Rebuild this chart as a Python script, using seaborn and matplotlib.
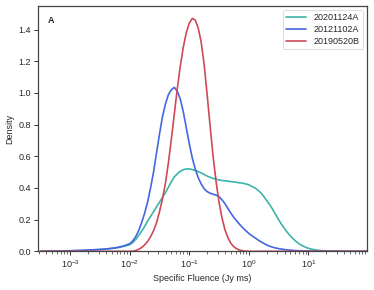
import numpy as np
import pandas as pd
import seaborn as sns
import matplotlib.pyplot as plt

# log10 of specific fluence (Jy ms): coarse in the tails, 0.05 dex where the curves bend
log_fluence = ([round(-3.5 + 0.1 * i, 2) for i in range(15)]
               + [round(-2.0 + 0.05 * i, 2) for i in range(65)]
               + [round(1.3 + 0.1 * i, 2) for i in range(8)])

# density values, one per log_fluence point
dens_20201124A = [
    # -3.5 .. -2.1
    0.0, 0.001, 0.001, 0.002, 0.002, 0.003, 0.004, 0.005, 0.007, 0.009,
    0.011, 0.014, 0.018, 0.023, 0.031,
    # -2.0 .. -1.0
    0.042, 0.055, 0.075, 0.10, 0.127, 0.157, 0.19, 0.22, 0.25, 0.28,
    0.31, 0.34, 0.37, 0.405, 0.44, 0.47, 0.49, 0.505, 0.515, 0.52, 0.52,
    # -0.95 .. 0.0
    0.516, 0.51, 0.503, 0.495, 0.485, 0.475, 0.467, 0.46, 0.455, 0.45,
    0.447, 0.445, 0.443, 0.44, 0.438, 0.435, 0.432, 0.43, 0.425, 0.42,
    # 0.05 .. 1.2
    0.41, 0.40, 0.387, 0.37, 0.347, 0.32, 0.295, 0.265, 0.232, 0.20,
    0.17, 0.143, 0.118, 0.096, 0.077, 0.06, 0.046, 0.035, 0.026, 0.019,
    0.014, 0.01, 0.007, 0.005,
    # 1.3 .. 2.0
    0.002, 0.001, 0.0, 0.0, 0.0, 0.0, 0.0, 0.0,
]
dens_20121102A = [
    0.0, 0.001, 0.001, 0.002, 0.003, 0.004, 0.005, 0.006, 0.008, 0.010,
    0.012, 0.015, 0.019, 0.025, 0.034,
    0.048, 0.065, 0.092, 0.13, 0.18, 0.24, 0.31, 0.40, 0.50, 0.62,
    0.74, 0.85, 0.93, 0.99, 1.02, 1.035, 1.01, 0.96, 0.88, 0.78, 0.68,
    0.59, 0.52, 0.465, 0.425, 0.395, 0.377, 0.367, 0.36, 0.355, 0.345,
    0.325, 0.30, 0.27, 0.24, 0.213, 0.19, 0.168, 0.148, 0.13, 0.113,
    0.099, 0.086, 0.073, 0.061, 0.05, 0.04, 0.032, 0.026, 0.021, 0.017,
    0.014, 0.011, 0.009, 0.007, 0.0055, 0.0045, 0.0035, 0.003, 0.0025, 0.002,
    0.0015, 0.001, 0.001, 0.001,
    0.001, 0.0, 0.0, 0.0, 0.0, 0.0, 0.0, 0.0,
]
dens_20190520B = [
    0.0, 0.0, 0.0, 0.0, 0.0, 0.0, 0.0, 0.0, 0.0, 0.0,
    0.0, 0.0, 0.0, 0.0, 0.0,
    0.0, 0.001, 0.005, 0.012, 0.024, 0.04, 0.062, 0.092, 0.13, 0.18,
    0.25, 0.33, 0.43, 0.56, 0.71, 0.87, 1.03, 1.17, 1.29, 1.38, 1.44,
    1.47, 1.46, 1.41, 1.32, 1.18, 0.99, 0.79, 0.60, 0.44, 0.31,
    0.21, 0.135, 0.085, 0.05, 0.028, 0.015, 0.007, 0.003, 0.001, 0.0,
    0.0, 0.0, 0.0, 0.0, 0.0, 0.0, 0.0, 0.0, 0.0, 0.0,
    0.0, 0.0, 0.0, 0.0, 0.0, 0.0, 0.0, 0.0, 0.0, 0.0,
    0.0, 0.0, 0.0, 0.0,
    0.0, 0.0, 0.0, 0.0, 0.0, 0.0, 0.0, 0.0,
]

names = ["20201124A", "20121102A", "20190520B"]
colors = ["#3cb4a9", "#4466e2", "#cd4a55"]

sns.set_theme(style="ticks")
plt.rcParams["font.family"] = ["Liberation Sans", "DejaVu Sans"]
plt.rcParams["mathtext.default"] = "regular"

fluence = 10 ** np.array(log_fluence)
df = pd.concat([
    pd.DataFrame({"fluence": fluence, "density": d, "frb": n})
    for n, d in zip(names, [dens_20201124A, dens_20121102A, dens_20190520B])
])

fig = plt.figure(figsize=(3.74, 2.90), dpi=100)
ax = fig.add_axes([0.1016, 0.1334, 0.879, 0.8456])

sns.lineplot(data=df, x="fluence", y="density", hue="frb", hue_order=names,
             palette=colors, linewidth=1.2, ax=ax)
ax.set_xscale("log")
ax.set_xlim(10 ** -3.54, 10 ** 1.98)
ax.set_ylim(0, 1.548)
ax.set_yticks([0.0, 0.2, 0.4, 0.6, 0.8, 1.0, 1.2, 1.4])

ax.set_xlabel("Specific Fluence (Jy ms)", fontsize=6.5, labelpad=3)
ax.set_ylabel("Density", fontsize=6.5, labelpad=3)
ax.tick_params(axis="both", which="major", labelsize=6.5, length=3, width=0.7,
               color="#333333", pad=2)
ax.tick_params(axis="x", which="minor", length=1.8, width=0.5, color="#333333")
for sp in ax.spines.values():
    sp.set_color("#444444")
    sp.set_linewidth(0.9)

ax.text(0.03, 0.96, "A", transform=ax.transAxes, fontsize=6.5,
        fontweight="bold", va="top", ha="left")

leg = ax.legend(loc="upper right", fontsize=6.5, title=None, frameon=True,
                borderaxespad=0.4, handlelength=2.2, labelspacing=0.3)
leg.get_frame().set_edgecolor("#cccccc")
leg.get_frame().set_linewidth(0.6)

plt.savefig("out.png", dpi=100)
